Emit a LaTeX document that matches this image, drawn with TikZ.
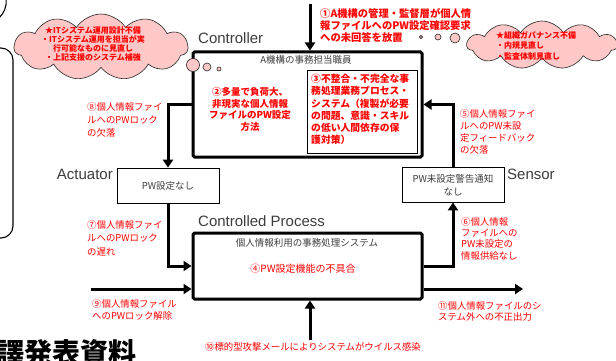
\documentclass[tikz,border=0pt]{standalone}
\usepackage{fontspec}
\setmainfont{Liberation Sans}
\newfontfamily\jp{Noto Sans CJK JP}
\usetikzlibrary{arrows.meta,shapes.symbols,calc}
\definecolor{jred}{HTML}{FF0000}
\definecolor{pinkfill}{HTML}{FFC8C8}
\definecolor{labgray}{HTML}{3C3C3C}
\begin{document}
\begin{tikzpicture}[x=1pt,y=-1pt,
  flow/.style={line width=3pt,-{Triangle[length=8pt,width=10pt]}},
  heavybox/.style={draw,line width=3pt,rounded corners=1.5pt,inner sep=0pt},
  thinbox/.style={draw,line width=0.8pt,inner sep=0pt},
  role/.style={font=\fontsize{15}{17}\selectfont,text=labgray,inner sep=0pt},
  caption/.style={font=\jp\fontsize{9.5}{13}\selectfont,text=labgray,inner sep=0pt},
  note/.style={text=jred,align=left,anchor=north west,inner sep=0pt},
  boldnote/.style={text=jred,inner sep=0pt},
  puff/.style={cloud,cloud puffs=11,cloud puff arc=115,cloud ignores aspect,
    draw=black!85,fill=pinkfill,line width=0.6pt,inner sep=0pt},
  bubble/.style={draw=black!85,fill=pinkfill,line width=0.6pt}
]
\clip (0,0) rectangle (616,361);

% partial frames at the left edge
\draw[line width=1.1pt,rounded corners=12pt] (-20,48) -- (13,48) -- (13,238) -- (-20,238);
\draw[line width=1.1pt] (6,-1) .. controls (7,7) and (4,13) .. (-1,18);

% governance clouds
\node[puff,minimum width=174pt,minimum height=66pt] (cloudL) at (101,47) {};
\node[boldnote,align=center,font=\jp\bfseries\fontsize{8}{9.3}\selectfont] (cloudLtxt) at (93,44)
  {★ITシステム運用設計不備\\・ITシステム運用を担当が実\\行可能なものに見直し\\・上記支援のシステム補強};
\node[puff,minimum width=150pt,minimum height=48pt] (cloudR) at (542,45) {};
\node[boldnote,align=left,anchor=north west,font=\jp\bfseries\fontsize{8}{10.5}\selectfont] (cloudRtxt) at (496,31)
  {★組織ガバナンス不備\\・内規見直し\\・監査体制見直し};

% main blocks
\node[heavybox,minimum width=229pt,minimum height=105pt] (ctrl) at (307.5,104.5) {};
\node[thinbox,minimum width=110pt,minimum height=83pt] (inner) at (362,111.5) {};
\node[heavybox,minimum width=229pt,minimum height=66pt] (cp) at (307.5,266) {};
\node[thinbox,minimum width=102pt,minimum height=35pt] (act) at (168,185.5) {};
\node[thinbox,minimum width=102pt,minimum height=35pt] (sen) at (453,184.5) {};

% role labels
\node[role,anchor=west] (lctrl) at (198,38) {Controller};
\node[role,anchor=west] (lcp) at (198,221) {Controlled Process};
\node[role,anchor=east] (lact) at (113,174) {Actuator};
\node[role,anchor=west] (lsen) at (507,174) {Sensor};

% block captions
\node[caption] (ctrlcap) at (306,60) {A機構の事務担当職員};
\node[caption] (cpcap) at (307,243) {個人情報利用の事務処理システム};
\node[caption] (acttxt) at (act.center) {PW設定なし};
\node[caption,align=center] (sentxt) at (453,185) {PW未設定警告通知\\なし};

% connectors
\coordinate (src1) at (310,4);
\coordinate (src9) at (91,289);
\coordinate (src10) at (310,340);
\coordinate (dst11) at (523,289);
\draw[flow] (src1) -- (src1 |- ctrl.north);
\draw[flow] (sen.north) |- (ctrl.east);
\draw[flow] (ctrl.west) -| (act.north);
\draw[flow] (act.south) |- (cp.west);
\draw[flow] (src9) -- (src9 -| cp.west);
\draw[flow] (cp.east) -| (sen.south);
\draw[flow] (dst11 -| cp.east) -- (dst11);
\draw[flow] (src10) -- (src10 |- cp.south);

% thought bubbles
\draw[bubble] (193,65) circle (6.5pt);
\draw[bubble] (207,67) circle (4pt);
\draw[bubble] (219,69) circle (2pt);
\draw[bubble] (421,37) circle (1.6pt);
\draw[bubble] (438,37) circle (3pt);
\draw[bubble] (455,38) circle (5pt);

% factor texts
\node[boldnote,anchor=north west,align=left,font=\jp\bfseries\fontsize{10.3}{12}\selectfont] (t1) at (320,8)
  {①A機構の管理・監督層が個人情\\報ファイルへのPW設定確認要求\\への未回答を放置};
\node[boldnote,anchor=north,align=center,font=\jp\bfseries\fontsize{9.5}{11.7}\selectfont] (t2) at (250,87)
  {②多量で負荷大、\\非現実な個人情報\\ファイルのPW設定\\方法};
\node[boldnote,anchor=north west,align=left,font=\jp\bfseries\fontsize{9.8}{12.2}\selectfont] (t3) at (311,74)
  {③不整合・不完全な事\\務処理業務プロセス・\\システム（複製が必要\\の問題、意識・スキル\\の低い人間依存の保\\護対策）};
\node[text=jred,inner sep=0pt,font=\jp\fontsize{10}{12}\selectfont] (t4) at (303,269) {④PW設定機能の不具合};
\node[note,font=\jp\fontsize{9.4}{12}\selectfont] (t5) at (460,109) {⑤個人情報ファイ\\ルへのPW未設\\定フィードバック\\の欠落};
\node[note,font=\jp\fontsize{9.4}{11.3}\selectfont] (t6) at (461,217) {⑥個人情報\\ファイルへの\\PW未設定の\\情報供給なし};
\node[note,font=\jp\fontsize{9.4}{13.5}\selectfont] (t7) at (87,220) {⑦個人情報ファイ\\ルへのPWロック\\の遅れ};
\node[note,font=\jp\fontsize{9.4}{13}\selectfont] (t8) at (87,102) {⑧個人情報ファイ\\ルへのPWロック\\の欠落};
\node[note,font=\jp\fontsize{9.4}{12}\selectfont] (t9) at (92,299) {⑨個人情報ファイル\\へのPWロック解除};
\node[text=jred,inner sep=0pt,font=\jp\fontsize{9.4}{12}\selectfont] (t10) at (313,347) {⑩標的型攻撃メールによりシステムがウイルス感染};
\node[note,font=\jp\fontsize{9.4}{11.5}\selectfont] (t11) at (438,301) {⑪個人情報ファイルのシ\\ステム外への不正出力};

% heading fragment at the lower edge
\node[anchor=base west,inner sep=0pt,font=\jp\bfseries\fontsize{28}{28}\selectfont] (footer) at (-4,363) {譯発表資料};
\end{tikzpicture}
\end{document}
